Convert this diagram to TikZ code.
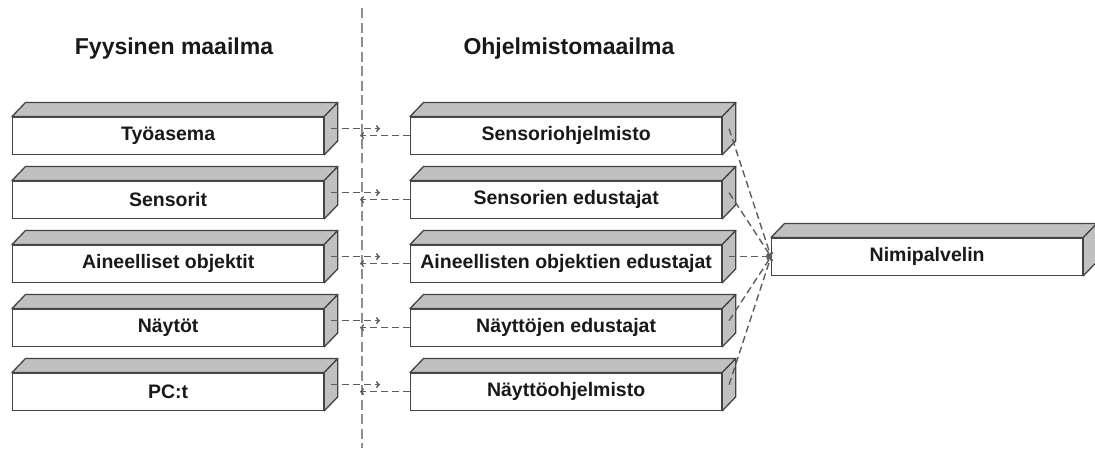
\documentclass[tikz,border=0pt]{standalone}
\usepackage{fontspec}
\setmainfont{Liberation Sans}
\usetikzlibrary{arrows.meta}

\definecolor{edge}{HTML}{444444}
\definecolor{face}{HTML}{C0C0C0}
\definecolor{link}{HTML}{5E5E5E}
\definecolor{divider}{HTML}{8E8E8E}

\tikzset{
  frontface/.style={draw=edge, fill=white, line width=1.3pt,
    minimum width=311pt, minimum height=37pt, inner sep=0pt,
    font=\fontsize{19.5}{20}\selectfont\bfseries, text=black!90,
    anchor=north west},
  sideface/.style={draw=edge, fill=face, line width=1.3pt, line join=round},
  conn/.style={draw=link, line width=1.4pt, dash pattern=on 7pt off 4pt},
  linktip/.style={-{To[length=4pt,width=7pt]}},
  worldtitle/.style={font=\fontsize{23}{24}\selectfont\bfseries,
    text=black!90, anchor=base},
  boundary/.style={draw=divider, line width=1.6pt, dash pattern=on 10pt off 4.5pt}
}

% a 3D box: front face node plus top and right faces
\newcommand{\cubenode}[4]{%
  \node[frontface] (#1) at (#2,#3) {#4};
  \draw[sideface] (#1.north west) -- ([shift={(13.5,-14)}]#1.north west)
    -- ([shift={(13.5,-14)}]#1.north east) -- (#1.north east) -- cycle;
  \draw[sideface] (#1.north east) -- ([shift={(13.5,-14)}]#1.north east)
    -- ([shift={(13.5,-14)}]#1.south east) -- (#1.south east) -- cycle;
  \coordinate (#1-s) at ([shift={(6.75,-7)}]#1.east);
}

\begin{document}
\begin{tikzpicture}[x=1pt, y=-1pt]
  \useasboundingbox[fill=white] (0,0) rectangle (1095,448);

  % boundary between the two worlds
  \coordinate (dtop) at (362,8);
  \coordinate (dbot) at (362,448);
  \draw[boundary] (dtop) -- (dbot);

  \node[worldtitle] (tphys) at (174,54) {Fyysinen maailma};
  \node[worldtitle] (tsoft) at (569,54) {Ohjelmistomaailma};

  \foreach \i/\y/\pt/\st in {
      1/116.5/Työasema/Sensoriohjelmisto,
      2/180.5/Sensorit/Sensorien edustajat,
      3/244.5/Aineelliset objektit/Aineellisten objektien edustajat,
      4/308.5/Näytöt/Näyttöjen edustajat,
      5/372.5/PC:t/Näyttöohjelmisto} {
    \cubenode{p\i}{12}{\y}{\pt}
    \cubenode{s\i}{410}{\y}{\st}
  }

  \cubenode{ns}{771}{237.5}{Nimipalvelin}

  \foreach \i in {1,...,5} {
    \coordinate (pa\i) at ([xshift=49pt]p\i-s);
    \coordinate (pb\i) at ([xshift=-50pt]s\i.west);
    \draw[conn, linktip] (p\i-s) -- (pa\i);
    \draw[conn, linktip] (s\i.west) -- (pb\i);
    \draw[conn, linktip] (s\i-s) -- (ns.west);
  }
\end{tikzpicture}
\end{document}
